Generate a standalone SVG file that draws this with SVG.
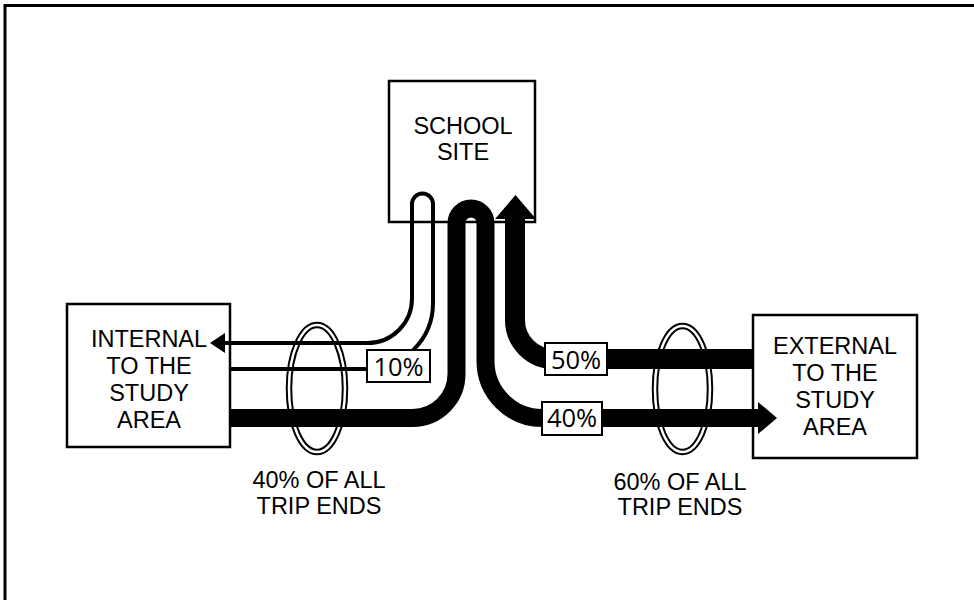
<svg xmlns="http://www.w3.org/2000/svg" width="974" height="600" viewBox="0 0 974 600">
<defs>
<style>
.box{fill:#fff;stroke:#000;stroke-width:2.5}
.lbl{fill:#fff;stroke:#000;stroke-width:2}
.t{font-family:"Liberation Sans",Arial,sans-serif;font-size:23.5px;fill:#000;text-anchor:middle}
.p{font-family:"Open Sans","Noto Sans",sans-serif;font-size:25.5px;fill:#000;text-anchor:middle}
.ringo{fill:none;stroke:#000;stroke-width:6.5}
.ringi{fill:none;stroke:#fff;stroke-width:2.5}
.thin{fill:none;stroke:#000;stroke-width:4}
.thick{fill:none;stroke:#000;stroke-width:18}
</style>
</defs>
<rect width="974" height="600" fill="#fff"/>
<rect x="5" y="5.5" width="1000" height="700" fill="none" stroke="#000" stroke-width="3"/>

<g id="school-site">
<rect class="box" x="389" y="81" width="146" height="141"/>
<text class="t" x="463" y="134">SCHOOL</text>
<text class="t" x="463" y="160">SITE</text>
</g>

<g id="internal">
<rect class="box" x="67" y="304" width="163" height="143"/>
<text class="t" x="149" y="347">INTERNAL</text>
<text class="t" x="149" y="374">TO THE</text>
<text class="t" x="149" y="401">STUDY</text>
<text class="t" x="149" y="428">AREA</text>
</g>

<g id="external">
<rect class="box" x="753" y="315" width="164" height="143"/>
<text class="t" x="835" y="354">EXTERNAL</text>
<text class="t" x="835" y="381">TO THE</text>
<text class="t" x="835" y="408">STUDY</text>
<text class="t" x="835" y="435">AREA</text>
</g>

<g id="ring-internal">
<ellipse class="ringo" cx="317" cy="388.5" rx="28" ry="63.5"/>
<ellipse class="ringi" cx="317" cy="388.5" rx="28" ry="63.5"/>
</g>
<g id="ring-external">
<ellipse class="ringo" cx="682.5" cy="389" rx="27.5" ry="63"/>
<ellipse class="ringi" cx="682.5" cy="389" rx="27.5" ry="63"/>
</g>

<g id="connectors">
<path class="thin" d="M224,343 H367.5 A44.5,44.5 0 0 0 412,298.5 V204 A10.5,10.5 0 0 1 433,204 V303 A66,66 0 0 1 367,369 H230"/>
<polygon points="210,343 225,333 225,353" fill="#000"/>
<path class="thick" d="M230,418 H412.5 A44,44 0 0 0 456.5,374 V223 A14.5,14.5 0 0 1 485.5,223 V361 A57,57 0 0 0 542.5,418 H759"/>
<polygon points="758,402 777,418 758,434" fill="#000"/>
<path class="thick" style="stroke-width:20" d="M753,359 H554 A39,39 0 0 1 515,320 V218"/>
<polygon points="495,219 515.5,195 536,219" fill="#000"/>
</g>

<g id="label-10">
<rect class="lbl" x="367" y="350" width="63" height="32"/>
<text class="p" x="398.5" y="376">10%</text>
</g>
<g id="label-50">
<rect class="lbl" x="545" y="343" width="62" height="32"/>
<text class="p" x="576" y="369">50%</text>
</g>
<g id="label-40">
<rect class="lbl" x="542" y="402" width="60" height="33"/>
<text class="p" x="572" y="427">40%</text>
</g>

<g id="caption-internal">
<text class="t" x="319" y="488">40% OF ALL</text>
<text class="t" x="319" y="514">TRIP ENDS</text>
</g>
<g id="caption-external">
<text class="t" x="680" y="490">60% OF ALL</text>
<text class="t" x="680" y="515">TRIP ENDS</text>
</g>
</svg>
